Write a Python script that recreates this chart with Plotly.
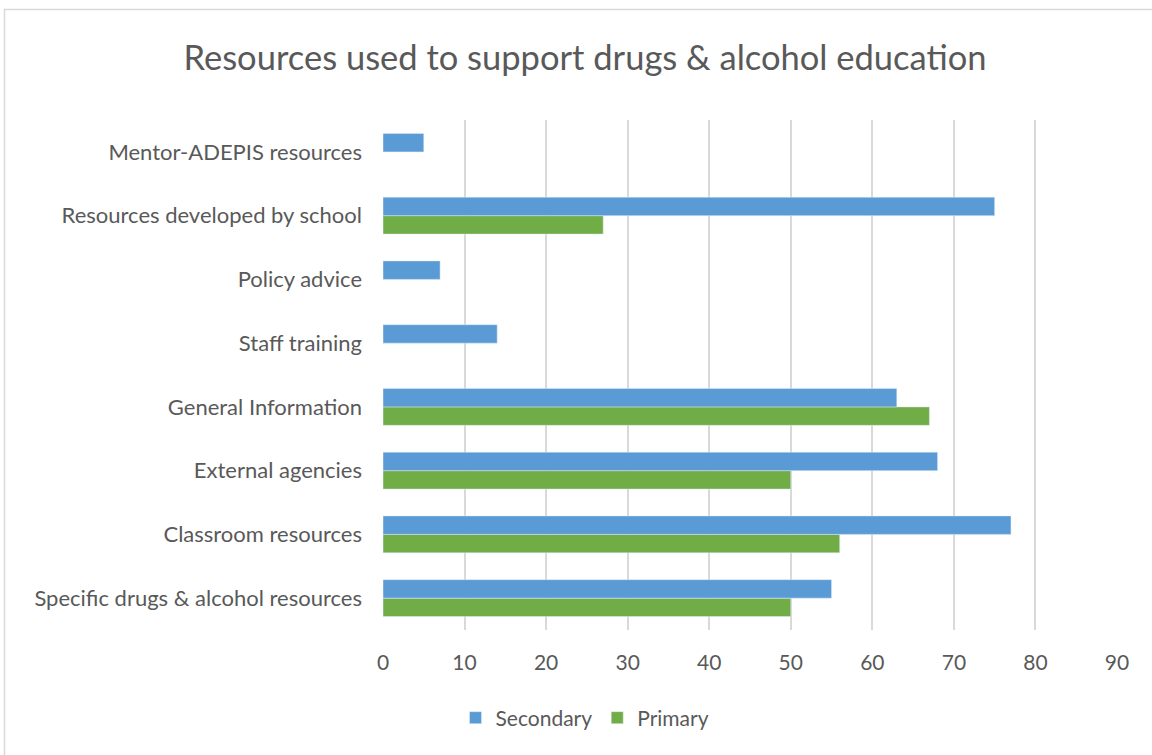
import plotly.graph_objects as go

categories = ["Specific drugs & alcohol resources", "Classroom resources", "External agencies",
              "General Information", "Staff training", "Policy advice",
              "Resources developed by school", "Mentor-ADEPIS resources"]
secondary = [55, 77, 68, 63, 14, 7, 75, 5]
primary = [50, 56, 50, 67, None, None, 27, None]
x_ticks = [0, 10, 20, 30, 40, 50, 60, 70, 80, 90]

W, H = 1152, 755
L, R, T, B = 383, 35, 120, 125
pw, ph = W - L - R, H - T - B

fig = go.Figure()
fig.add_trace(go.Bar(y=categories, x=primary, orientation="h", name="Primary",
                     marker=dict(color="#70AD47"), legendrank=2))
fig.add_trace(go.Bar(y=categories, x=secondary, orientation="h", name="Secondary",
                     marker=dict(color="#5B9BD5"), legendrank=1))

def px_x(p):
    return (p - L) / pw

def px_y(p):
    return 1 - (p - T) / ph

fig.update_layout(
    width=W, height=H,
    margin=dict(l=L, r=R, t=T, b=B),
    paper_bgcolor="white", plot_bgcolor="white",
    barmode="group", bargap=0.42, bargroupgap=0,
    font=dict(family="Lato, sans-serif", color="#595959"),
    title=dict(text="Resources used to support drugs & alcohol education",
               x=585 / W, xref="container", xanchor="center", y=1 - 58 / H, yanchor="middle",
               font=dict(size=34.5, color="#595959")),
    xaxis=dict(range=[0, 90], tickvals=x_ticks, showgrid=True, gridcolor="#D9D9D9",
               gridwidth=1.5, zeroline=False, showline=False, ticks="",
               ticklabelstandoff=18,
               tickfont=dict(size=21, color="#595959")),
    yaxis=dict(showgrid=False, zeroline=False, showline=False, ticks="",
               ticklabelstandoff=20, tickfont=dict(size=22, color="#595959")),
    legend=dict(orientation="h", x=585 / W, xref="container", xanchor="center",
                y=1 - 718 / H, yref="container", yanchor="middle",
                font=dict(size=21, color="#595959"), traceorder="normal"),
    shapes=[dict(type="rect", xref="paper", yref="paper",
                 x0=px_x(4.5), x1=px_x(1160), y0=px_y(760), y1=px_y(9.5),
                 line=dict(color="#D9D9D9", width=1.5), fillcolor="rgba(0,0,0,0)", layer="below")],
)

fig.write_html("out.html", config={"displayModeBar": False},
               post_script="document.body.style.margin='0px';")
